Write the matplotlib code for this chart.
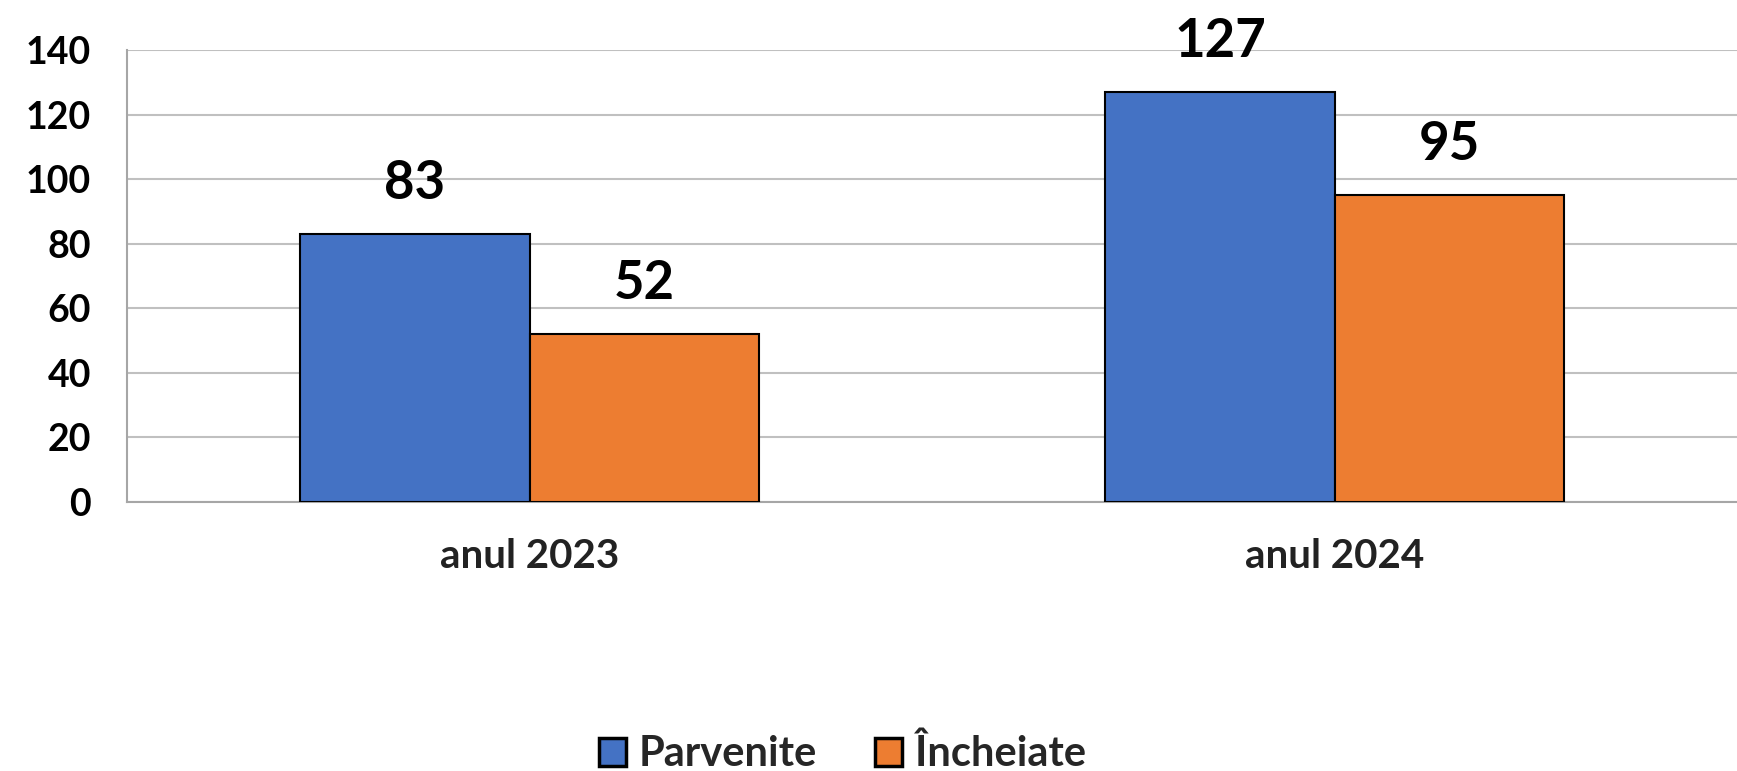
import numpy as np
import matplotlib.pyplot as plt

plt.rcParams['font.family'] = ['Lato', 'DejaVu Sans']
plt.rcParams['font.weight'] = 'bold'

categories = ["anul 2023", "anul 2024"]
parvenite = [83, 127]
incheiate = [52, 95]
series_names = ["Parvenite", "Încheiate"]

x = np.arange(len(categories))
w = 0.285

fig = plt.figure(figsize=(17.37, 7.71), dpi=100)
ax = fig.add_axes([0.0731, 0.349, 0.927, 0.586])

b1 = ax.bar(x - w/2, parvenite, w, color="#4472C4", edgecolor="black", linewidth=1.5, label=series_names[0], zorder=3)
b2 = ax.bar(x + w/2, incheiate, w, color="#ED7D31", edgecolor="black", linewidth=1.5, label=series_names[1], zorder=3)

for bars in (b1, b2):
    for r in bars:
        ax.annotate(f"{int(r.get_height())}", (r.get_x() + r.get_width()/2, r.get_height()),
                    xytext=(0, 19), textcoords="offset points", ha="center", va="bottom",
                    fontsize=38, fontweight="bold", color="black")

ax.set_xlim(-0.5, 1.5)
ax.set_ylim(0, 140)
ax.set_yticks(np.arange(0, 141, 20))
ax.set_xticks(x)
ax.set_xticklabels(categories, fontsize=29, fontweight="bold", color="#222222")
ax.tick_params(axis="y", labelsize=27, length=0, pad=26)
ax.tick_params(axis="x", length=0, pad=26)
for lab in ax.get_yticklabels():
    lab.set_fontweight("bold")

ax.grid(axis="y", color="#c0c0c0", linewidth=1.5, zorder=0)
for s in ["top", "right"]:
    ax.spines[s].set_visible(False)
ax.spines["left"].set_color("#a6a6a6")
ax.spines["bottom"].set_color("#a6a6a6")
ax.spines["left"].set_linewidth(1.5)
ax.spines["bottom"].set_linewidth(1.5)

leg = fig.legend(handles=[b1, b2], loc="center", bbox_to_anchor=(0.485, 0.022), ncol=2,
                 frameon=False, fontsize=30, handlelength=0.65, handleheight=0.65,
                 handletextpad=0.3, columnspacing=1.4, borderpad=0)
for t in leg.get_texts():
    t.set_color("#262626")
    t.set_fontweight("bold")
for p in leg.get_patches():
    p.set_linewidth(2.5)

fig.savefig("out.png", dpi=100)
